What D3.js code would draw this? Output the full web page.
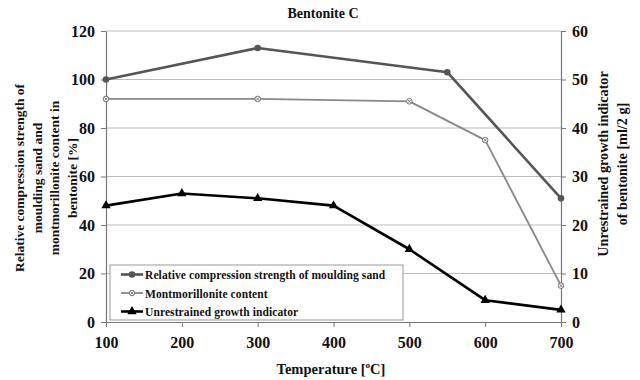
<!DOCTYPE html>
<html>
<head>
<meta charset="utf-8">
<script src="https://cdn.jsdelivr.net/npm/d3@7"></script>
<style>
  body { margin: 0; background: #fff; }
</style>
</head>
<body>
<svg id="chart" width="640" height="380"></svg>
<script>
"use strict"

// data
const xTicks = [100, 200, 300, 400, 500, 600, 700]
const leftTicks = [0, 20, 40, 60, 80, 100, 120]
const rightTicks = [0, 10, 20, 30, 40, 50, 60]

const strengthT = [100, 300, 550, 700]
const strengthV = [100, 113, 103, 51]
const montT = [100, 300, 500, 600, 700]
const montV = [92, 92, 91, 75, 15]
const growthT = [100, 200, 300, 400, 500, 600, 700]
const growthV = [24, 26.5, 25.5, 24, 15, 4.5, 2.5]

const svg = d3.select('#chart')
const m = {left: 106, right: 561, top: 31, bottom: 322}

const x = d3.scaleLinear().domain([100, 700]).range([m.left, m.right])
const yL = d3.scaleLinear().domain([0, 120]).range([m.bottom, m.top])
const yR = d3.scaleLinear().domain([0, 60]).range([m.bottom, m.top])

// gridlines
svg.append('g').selectAll('line')
  .data(leftTicks.filter(d => d > 0))
  .enter().append('line')
    .attr('x1', m.left).attr('x2', m.right)
    .attr('y1', d => yL(d)).attr('y2', d => yL(d))
    .attr('stroke', '#bbb').attr('stroke-width', 1)

// axes
const axisStyle = g => {
  g.select('.domain').attr('stroke', '#777').attr('stroke-width', 1.2)
  g.selectAll('.tick line').attr('stroke', '#777')
  g.selectAll('.tick text').attr('fill', '#111').style('font-size', '16px')
}
svg.append('g').attr('transform', `translate(${m.left},0)`)
  .call(d3.axisLeft(yL).tickValues(leftTicks).tickSize(5).tickSizeOuter(0).tickPadding(6))
  .call(axisStyle)
svg.append('g').attr('transform', `translate(${m.right},0)`)
  .call(d3.axisRight(yR).tickValues(rightTicks).tickSize(5).tickSizeOuter(0).tickPadding(6))
  .call(axisStyle)
svg.append('g').attr('transform', `translate(0,${m.bottom})`)
  .call(d3.axisBottom(x).tickValues(xTicks).tickSize(5).tickSizeOuter(0).tickPadding(10))
  .call(axisStyle)

// series
const series = [
  {name: 'Relative compression strength of moulding sand', t: strengthT, v: strengthV, y: yL, color: '#555', width: 2.6, marker: 'circle'},
  {name: 'Montmorillonite content', t: montT, v: montV, y: yL, color: '#888', width: 1.8, marker: 'cross'},
  {name: 'Unrestrained growth indicator', t: growthT, v: growthV, y: yR, color: '#000', width: 2.6, marker: 'triangle'},
]

const drawMarker = (g, kind, color) => {
  if (kind === 'circle') {
    g.append('circle').attr('r', 3.3).attr('fill', color)
  } else if (kind === 'cross') {
    g.append('circle').attr('r', 2.8).attr('fill', '#fff').attr('stroke', '#666').attr('stroke-width', 0.9)
    g.append('path').attr('d', 'M-1.5,-1.5L1.5,1.5M-1.5,1.5L1.5,-1.5').attr('stroke', '#666').attr('stroke-width', 0.8)
  } else {
    g.append('path').attr('d', d3.symbol(d3.symbolTriangle, 38)()).attr('fill', color)
  }
}

for (const s of series) {
  const pts = s.t.map((t, i) => [x(t), s.y(s.v[i])])
  svg.append('path').datum(pts)
    .attr('d', d3.line())
    .attr('fill', 'none').attr('stroke', s.color).attr('stroke-width', s.width)
    .attr('stroke-linejoin', 'round')
  for (const p of pts) {
    drawMarker(svg.append('g').attr('transform', `translate(${p[0]},${p[1]})`), s.marker, s.color)
  }
}

// legend
const lg = svg.append('g').attr('transform', 'translate(110,265)')
lg.append('rect').attr('width', 293).attr('height', 55)
  .attr('fill', '#fff').attr('stroke', '#999').attr('stroke-width', 1)
series.forEach((s, i) => {
  const ly = 9.5 + i * 18.5
  lg.append('line').attr('x1', 11).attr('x2', 33).attr('y1', ly).attr('y2', ly)
    .attr('stroke', s.color).attr('stroke-width', s.width)
  drawMarker(lg.append('g').attr('transform', `translate(22,${ly})`), s.marker, s.color)
  lg.append('text').attr('x', 35).attr('y', ly + 4.5).style('font-size', '11.5px').attr('fill', '#111')
    .style('letter-spacing', '0.1px').text(s.name)
})

// titles
svg.append('text').attr('x', 323).attr('y', 18).attr('text-anchor', 'middle')
  .style('font-size', '14px').attr('fill', '#111').text('Bentonite C')

const xt = svg.append('text').attr('x', 331).attr('y', 374).attr('text-anchor', 'middle')
  .style('font-size', '14.5px').attr('fill', '#111')
xt.append('tspan').text('Temperature [')
xt.append('tspan').style('font-size', '9px').attr('dy', -6).text('o')
xt.append('tspan').attr('dy', 6).text('C]')

const leftLines = ['Relative compression strength of', 'moulding sand and', 'montmorillonite content in', 'bentonite [%]']
const lt = svg.append('text').attr('transform', 'translate(0,178) rotate(-90)')
  .attr('text-anchor', 'middle').style('font-size', '13.5px').attr('fill', '#111')
leftLines.forEach((l, i) => lt.append('tspan').attr('x', 0).attr('y', 24 + i * 17.7).text(l))

const rightLines = ['Unrestrained growth indicator', 'of bentonite [ml/2 g]']
const rt = svg.append('text').attr('transform', 'translate(0,164) rotate(-90)')
  .attr('text-anchor', 'middle').style('font-size', '14.2px').attr('fill', '#111')
rightLines.forEach((l, i) => rt.append('tspan').attr('x', 0).attr('y', 608 + i * 19).text(l))

svg.selectAll('text')
  .style('font-family', '"Liberation Serif"')
  .style('font-weight', 'bold')
</script>
</body>
</html>
